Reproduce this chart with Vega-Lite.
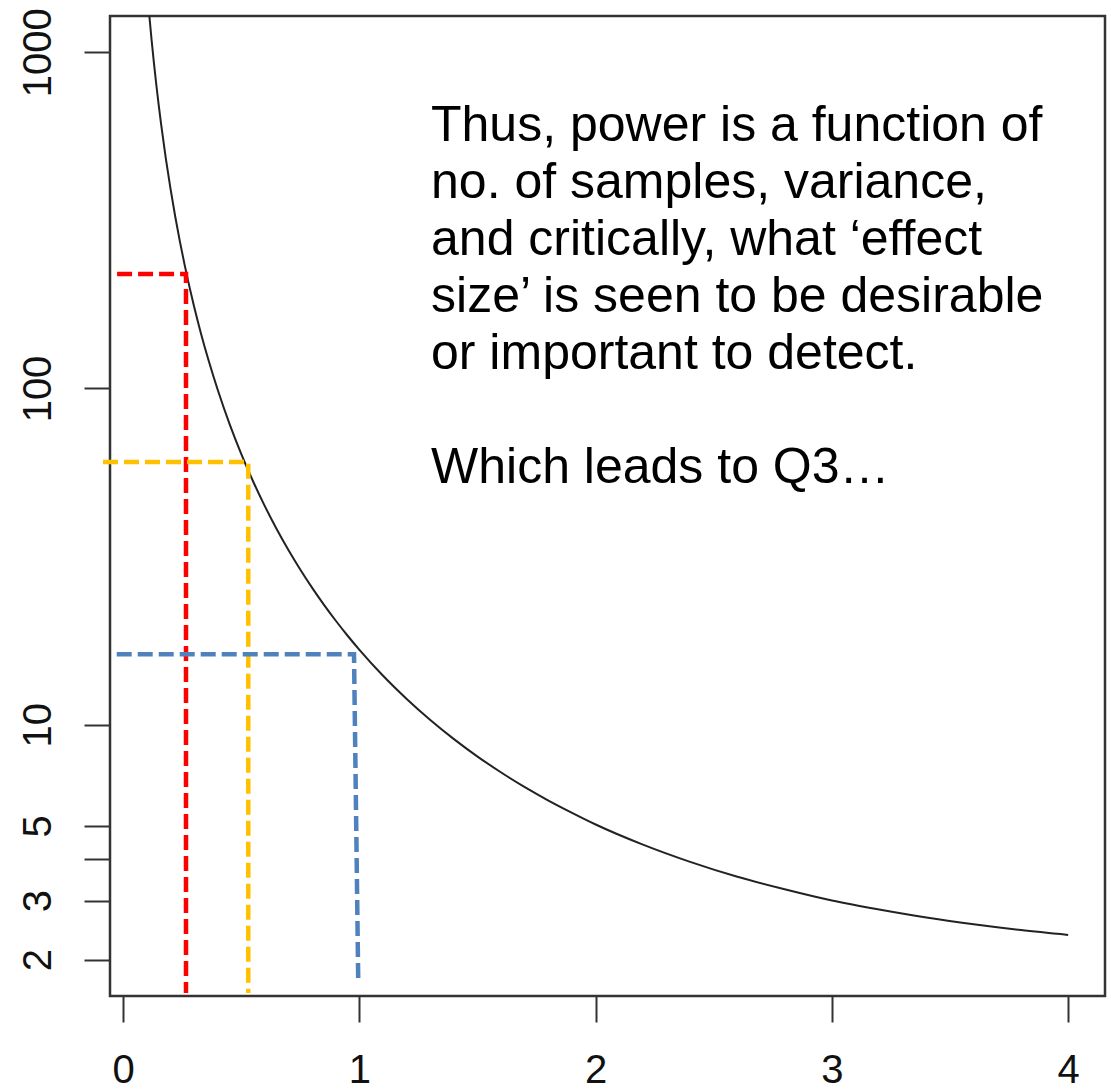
{
  "$schema": "https://vega.github.io/schema/vega-lite/v6.json",
  "autosize": {"type": "none"},
  "padding": {"left": 110, "top": 16, "right": 6, "bottom": 94},
  "width": 995,
  "height": 980,
  "background": "white",
  "config": {
    "view": {"stroke": "#333333", "strokeWidth": 2.5},
    "axis": {
      "grid": false,
      "domain": false,
      "labelFont": "Liberation Sans",
      "labelFontSize": 40,
      "labelColor": "#111111",
      "tickColor": "#333333",
      "tickWidth": 2,
      "tickSize": 26,
      "title": null,
      "labelOverlap": false
    }
  },
  "datasets": {
    "curve": [
      {"d": 0.10, "n": 1570.8}, {"d": 0.11, "n": 1298.4}, {"d": 0.12, "n": 1091.1},
      {"d": 0.13, "n": 929.9}, {"d": 0.14, "n": 801.9}, {"d": 0.15, "n": 698.7},
      {"d": 0.16, "n": 614.2}, {"d": 0.18, "n": 485.5}, {"d": 0.20, "n": 393.5},
      {"d": 0.22, "n": 325.3}, {"d": 0.24, "n": 273.5}, {"d": 0.26, "n": 233.2},
      {"d": 0.28, "n": 201.2}, {"d": 0.30, "n": 175.4}, {"d": 0.33, "n": 145.1},
      {"d": 0.36, "n": 122.1}, {"d": 0.40, "n": 99.1}, {"d": 0.45, "n": 78.5},
      {"d": 0.50, "n": 63.8}, {"d": 0.55, "n": 52.9}, {"d": 0.60, "n": 44.6},
      {"d": 0.65, "n": 38.15}, {"d": 0.70, "n": 33.04}, {"d": 0.75, "n": 28.91},
      {"d": 0.80, "n": 25.53}, {"d": 0.85, "n": 22.73}, {"d": 0.90, "n": 20.38},
      {"d": 0.95, "n": 18.39}, {"d": 1.00, "n": 16.70}, {"d": 1.10, "n": 13.98},
      {"d": 1.20, "n": 11.93}, {"d": 1.30, "n": 10.33}, {"d": 1.40, "n": 9.06},
      {"d": 1.50, "n": 8.04}, {"d": 1.60, "n": 7.21}, {"d": 1.70, "n": 6.52},
      {"d": 1.80, "n": 5.95}, {"d": 1.90, "n": 5.47}, {"d": 2.00, "n": 5.05},
      {"d": 2.20, "n": 4.40}, {"d": 2.40, "n": 3.91}, {"d": 2.60, "n": 3.53},
      {"d": 2.80, "n": 3.24}, {"d": 3.00, "n": 3.00}, {"d": 3.20, "n": 2.82},
      {"d": 3.40, "n": 2.67}, {"d": 3.60, "n": 2.55}, {"d": 3.80, "n": 2.45},
      {"d": 4.00, "n": 2.37}
    ],
    "guides": [
      {"series": "red", "idx": 0, "d": -0.026, "n": 219},
      {"series": "red", "idx": 1, "d": 0.2658, "n": 219},
      {"series": "red", "idx": 2, "d": 0.2658, "n": 1.592},
      {"series": "yellow", "idx": 0, "d": -0.0855, "n": 60.4},
      {"series": "yellow", "idx": 1, "d": 0.5295, "n": 60.4},
      {"series": "yellow", "idx": 2, "d": 0.5295, "n": 1.592},
      {"series": "blue", "idx": 0, "d": -0.0275, "n": 16.19},
      {"series": "blue", "idx": 1, "d": 0.977, "n": 16.19},
      {"series": "blue", "idx": 2, "d": 0.995, "n": 1.704}
    ],
    "note": [
      {"d": 1.303, "n": 545.8, "label": "Thus, power is a function of\nno. of samples, variance,\nand critically, what ‘effect\nsize’ is seen to be desirable\nor important to detect."},
      {"d": 1.303, "n": 52.35, "label": "Which leads to Q3…"}
    ]
  },
  "encoding": {
    "x": {
      "field": "d",
      "type": "quantitative",
      "scale": {"domain": [-0.0559, 4.156], "nice": false, "zero": false},
      "axis": {"values": [0, 1, 2, 3, 4], "labelPadding": 28, "format": "d"}
    },
    "y": {
      "field": "n",
      "type": "quantitative",
      "scale": {"type": "log", "domain": [1.56, 1282], "nice": false},
      "axis": {
        "values": [2, 3, 4, 5, 10, 100, 1000],
        "format": "d",
        "labelExpr": "datum.value == 4 ? '' : datum.label",
        "labelAngle": -90,
        "labelAlign": "center",
        "labelBaseline": "alphabetic",
        "labelPadding": 34
      }
    }
  },
  "layer": [
    {
      "data": {"name": "curve"},
      "mark": {"type": "line", "color": "#222222", "strokeWidth": 2, "clip": true, "interpolate": "monotone"},
      "encoding": {"order": {"field": "d", "type": "quantitative"}}
    },
    {
      "data": {"name": "guides"},
      "mark": {"type": "line", "strokeWidth": 4.5, "strokeDash": [15, 6], "strokeCap": "butt", "clip": false},
      "encoding": {
        "color": {
          "field": "series",
          "type": "nominal",
          "scale": {"domain": ["red", "yellow", "blue"], "range": ["#FF0000", "#FFC000", "#4F81BD"]},
          "legend": null
        },
        "order": {"field": "idx", "type": "quantitative"}
      }
    },
    {
      "data": {"name": "note"},
      "mark": {
        "type": "text",
        "align": "left",
        "baseline": "alphabetic",
        "font": "Liberation Sans",
        "fontSize": 50,
        "lineHeight": 57,
        "lineBreak": "\n",
        "color": "#000000"
      },
      "encoding": {"text": {"field": "label", "type": "nominal"}}
    }
  ]
}
